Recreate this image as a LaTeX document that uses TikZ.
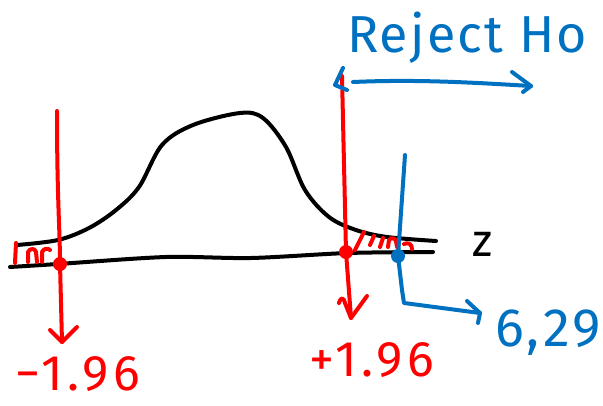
\documentclass[tikz,border=0pt]{standalone}
\usepackage{fontspec}
\setmainfont{Fira Sans}
\begin{document}
\begin{tikzpicture}[x=1pt,y=-1pt,line cap=round,line join=round]
\definecolor{penred}{RGB}{255,0,0}
\definecolor{penblue}{RGB}{0,112,192}
\tikzset{
  ink/.style={line width=4pt,black},
  redink/.style={line width=4pt,penred},
  blueink/.style={line width=4pt,penblue},
  redlabel/.style={text=penred,font=\fontsize{50}{50}\selectfont\addfontfeature{LetterSpace=9},inner sep=0pt},
  bluelabel/.style={text=penblue,font=\fontsize{54}{54}\selectfont\addfontfeature{LetterSpace=6},inner sep=0pt},
}
\useasboundingbox (0,0) rectangle (603,405);
% bell curve
\draw[ink] plot[smooth,tension=0.55] coordinates {(17,245) (58,240) (89,228) (116,210) (139,187) (162,145) (193,125) (240,113) (263,118) (286,147) (305,190) (329,217) (356,230) (387,237) (436,241)};
% axis
\draw[ink] plot[smooth,tension=0.5] coordinates {(10,267) (58,264) (166,257) (251,258) (348,253) (433,252)};
\node[inner sep=0pt,font=\fontsize{46}{46}\selectfont] (z) at (483,244) {z};
% red hatching left
\draw[redink] (16,243) -- (15,263);
\draw[redink] (28,262) -- (28,252) .. controls (30,248) and (35,248) .. (36,252) -- (37,262);
\draw[redink] (42,262) -- (42,252) .. controls (44,248) and (48,248) .. (50,250);
% red hatching right
\draw[redink] (355,250) -- (364,232);
\draw[redink] (370,245) -- (374,236);
\draw[redink] (380,247) -- (383,238);
\draw[redink] (388,247) -- (389,240) .. controls (391,237) and (395,238) .. (396,241) -- (397,247);
\draw[redink] (404,244) .. controls (408,242) and (412,244) .. (412,249);
% red vertical lines
\coordinate (ltop) at (57,111);
\coordinate (ldot) at (60,264);
\coordinate (ltip) at (62,342);
\draw[redink] (ltop) .. controls (57,200) and (60,230) .. (ldot) -- (ltip);
\draw[redink] (50,330) -- (ltip) -- (77,327);
\fill[penred] (ldot) circle (7);
\coordinate (rtop) at (342,76);
\coordinate (rdot) at (346,252);
\coordinate (rtip) at (351,318);
\draw[redink] (rtop) -- (rdot) -- (rtip);
\draw[redink] (339,303) .. controls (341,296) and (344,298) .. (345,303) -- (rtip) -- (367,296);
\fill[penred] (rdot) circle (7);
% blue line and arrow to 6,29
\coordinate (btop) at (405,155);
\coordinate (bdot) at (398,256);
\coordinate (bcorner) at (404,303);
\coordinate (btip) at (480,313);
\draw[blueink] (btop) -- (bdot) -- (402,290) -- (bcorner) -- (btip);
\draw[blueink] (467,301) -- (btip) -- (478,323);
\fill[penblue] (bdot) circle (7);
% labels
\node[redlabel] (lneg) at (78,374) {−1.96};
\node[redlabel] (lpos) at (372,360) {+1.96};
\node[bluelabel] (lval) at (548,333) {6,29};
% Reject Ho
\node[text=penblue,inner sep=0pt,font=\fontsize{52}{52}\selectfont\addfontfeature{LetterSpace=4}] (reject) at (467,38) {Reject Ho};
\coordinate (aleft) at (335,85);
\coordinate (aright) at (531,86);
\draw[blueink] (343,68) -- (aleft) -- (347,90);
\draw[blueink] (353,82) .. controls (420,79) and (480,83) .. (aright);
\draw[blueink] (512,72) -- (aright) -- (523,92);
\end{tikzpicture}
\end{document}
